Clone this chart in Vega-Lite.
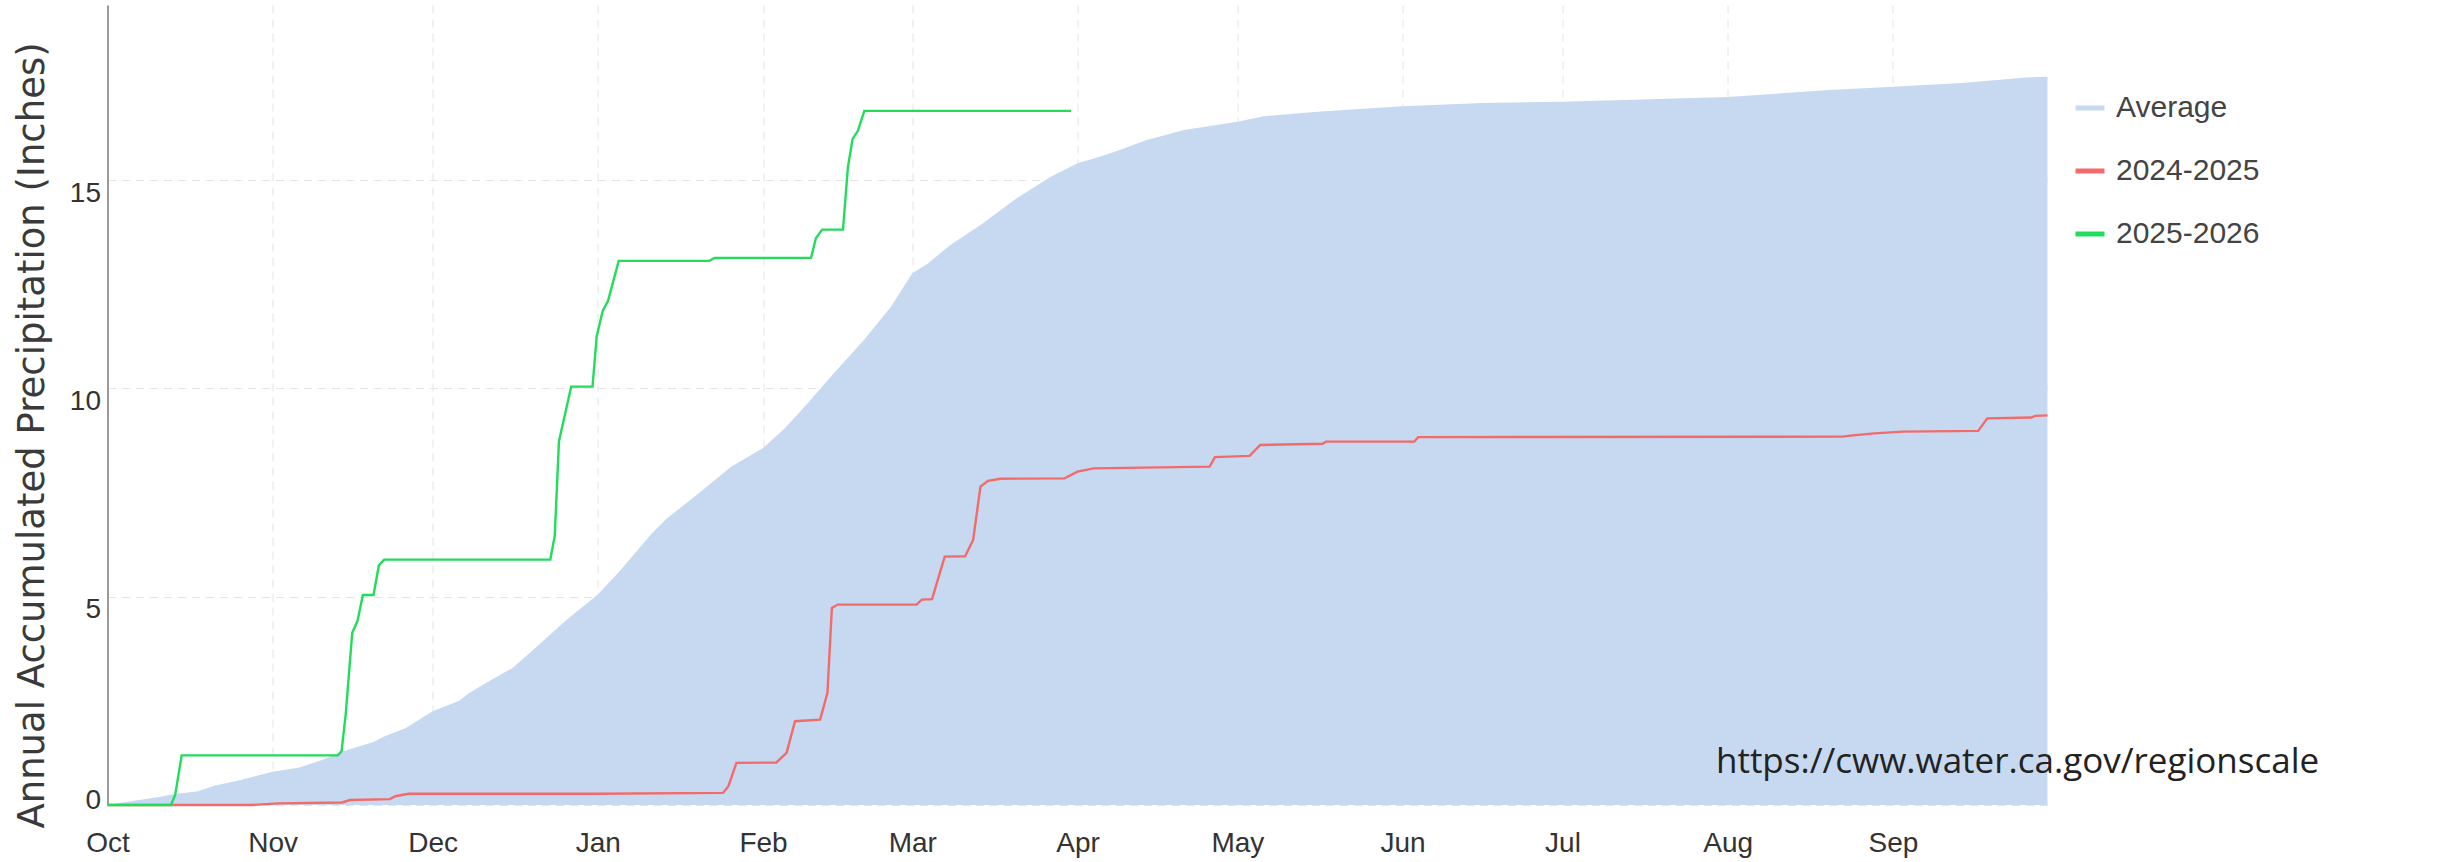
{
  "$schema": "https://vega.github.io/schema/vega-lite/v6.json",
  "width": 1940,
  "height": 800,
  "autosize": {"type": "none"},
  "padding": {"left": 107.5, "top": 5, "right": 395.5, "bottom": 57},
  "background": "white",
  "config": {"view": {"stroke": null}},
  "datasets": {
    "avg": [
      {"date": "2024-10-01T00:00:00", "value": 0},
      {"date": "2024-10-06T00:00:00", "value": 0.1},
      {"date": "2024-10-11T00:00:00", "value": 0.2},
      {"date": "2024-10-13T00:00:00", "value": 0.25},
      {"date": "2024-10-18T00:00:00", "value": 0.33},
      {"date": "2024-10-21T00:00:00", "value": 0.46},
      {"date": "2024-10-26T00:00:00", "value": 0.6},
      {"date": "2024-11-01T00:00:00", "value": 0.8},
      {"date": "2024-11-06T00:00:00", "value": 0.9},
      {"date": "2024-11-10T00:00:00", "value": 1.07},
      {"date": "2024-11-14T00:00:00", "value": 1.28},
      {"date": "2024-11-20T00:00:00", "value": 1.52},
      {"date": "2024-11-22T00:00:00", "value": 1.65},
      {"date": "2024-11-26T00:00:00", "value": 1.85},
      {"date": "2024-12-01T00:00:00", "value": 2.25},
      {"date": "2024-12-06T00:00:00", "value": 2.5},
      {"date": "2024-12-08T00:00:00", "value": 2.7},
      {"date": "2024-12-12T00:00:00", "value": 3.0},
      {"date": "2024-12-16T00:00:00", "value": 3.29},
      {"date": "2024-12-20T00:00:00", "value": 3.74},
      {"date": "2024-12-26T00:00:00", "value": 4.43},
      {"date": "2025-01-01T00:00:00", "value": 5.05},
      {"date": "2025-01-05T00:00:00", "value": 5.6},
      {"date": "2025-01-11T00:00:00", "value": 6.5},
      {"date": "2025-01-14T00:00:00", "value": 6.88},
      {"date": "2025-01-20T00:00:00", "value": 7.49},
      {"date": "2025-01-26T00:00:00", "value": 8.12},
      {"date": "2025-02-01T00:00:00", "value": 8.57},
      {"date": "2025-02-05T00:00:00", "value": 9.03},
      {"date": "2025-02-09T00:00:00", "value": 9.59},
      {"date": "2025-02-14T00:00:00", "value": 10.32},
      {"date": "2025-02-20T00:00:00", "value": 11.17},
      {"date": "2025-02-25T00:00:00", "value": 11.96},
      {"date": "2025-03-01T00:00:00", "value": 12.76},
      {"date": "2025-03-04T00:00:00", "value": 13.0},
      {"date": "2025-03-08T00:00:00", "value": 13.43},
      {"date": "2025-03-14T00:00:00", "value": 13.94},
      {"date": "2025-03-20T00:00:00", "value": 14.51},
      {"date": "2025-03-27T00:00:00", "value": 15.08},
      {"date": "2025-04-01T00:00:00", "value": 15.4},
      {"date": "2025-04-05T00:00:00", "value": 15.55},
      {"date": "2025-04-08T00:00:00", "value": 15.68},
      {"date": "2025-04-14T00:00:00", "value": 15.96},
      {"date": "2025-04-21T00:00:00", "value": 16.2},
      {"date": "2025-05-01T00:00:00", "value": 16.4},
      {"date": "2025-05-06T00:00:00", "value": 16.53},
      {"date": "2025-05-16T00:00:00", "value": 16.64},
      {"date": "2025-06-01T00:00:00", "value": 16.77},
      {"date": "2025-06-16T00:00:00", "value": 16.85},
      {"date": "2025-07-01T00:00:00", "value": 16.88},
      {"date": "2025-08-01T00:00:00", "value": 16.99},
      {"date": "2025-08-20T00:00:00", "value": 17.16},
      {"date": "2025-09-01T00:00:00", "value": 17.24},
      {"date": "2025-09-14T00:00:00", "value": 17.33},
      {"date": "2025-09-26T00:00:00", "value": 17.46},
      {"date": "2025-09-30T00:00:00", "value": 17.48}
    ],
    "years": [
      {"series": "2024-2025", "date": "2024-10-01T00:00:00", "value": 0},
      {"series": "2024-2025", "date": "2024-10-28T00:00:00", "value": 0},
      {"series": "2024-2025", "date": "2024-11-02T00:00:00", "value": 0.04},
      {"series": "2024-2025", "date": "2024-11-14T00:00:00", "value": 0.06},
      {"series": "2024-2025", "date": "2024-11-15T12:00:00", "value": 0.12},
      {"series": "2024-2025", "date": "2024-11-23T00:00:00", "value": 0.14},
      {"series": "2024-2025", "date": "2024-11-24T00:00:00", "value": 0.21},
      {"series": "2024-2025", "date": "2024-11-26T12:00:00", "value": 0.27},
      {"series": "2024-2025", "date": "2025-01-01T00:00:00", "value": 0.27},
      {"series": "2024-2025", "date": "2025-01-24T12:00:00", "value": 0.29},
      {"series": "2024-2025", "date": "2025-01-25T12:00:00", "value": 0.45},
      {"series": "2024-2025", "date": "2025-01-27T00:00:00", "value": 1.01},
      {"series": "2024-2025", "date": "2025-02-03T12:00:00", "value": 1.02},
      {"series": "2024-2025", "date": "2025-02-05T10:00:00", "value": 1.25},
      {"series": "2024-2025", "date": "2025-02-07T00:00:00", "value": 2.01},
      {"series": "2024-2025", "date": "2025-02-11T17:00:00", "value": 2.05},
      {"series": "2024-2025", "date": "2025-02-13T02:00:00", "value": 2.69},
      {"series": "2024-2025", "date": "2025-02-13T22:00:00", "value": 4.73},
      {"series": "2024-2025", "date": "2025-02-15T00:00:00", "value": 4.81},
      {"series": "2024-2025", "date": "2025-03-01T19:00:00", "value": 4.81},
      {"series": "2024-2025", "date": "2025-03-02T19:00:00", "value": 4.93},
      {"series": "2024-2025", "date": "2025-03-04T17:00:00", "value": 4.94},
      {"series": "2024-2025", "date": "2025-03-07T02:00:00", "value": 5.96},
      {"series": "2024-2025", "date": "2025-03-10T22:00:00", "value": 5.97},
      {"series": "2024-2025", "date": "2025-03-12T10:00:00", "value": 6.36},
      {"series": "2024-2025", "date": "2025-03-13T19:00:00", "value": 7.64},
      {"series": "2024-2025", "date": "2025-03-15T05:00:00", "value": 7.78},
      {"series": "2024-2025", "date": "2025-03-17T14:00:00", "value": 7.83},
      {"series": "2024-2025", "date": "2025-03-29T14:00:00", "value": 7.84},
      {"series": "2024-2025", "date": "2025-04-01T00:00:00", "value": 8.0},
      {"series": "2024-2025", "date": "2025-04-04T00:00:00", "value": 8.08},
      {"series": "2024-2025", "date": "2025-04-25T19:00:00", "value": 8.12},
      {"series": "2024-2025", "date": "2025-04-26T19:00:00", "value": 8.35},
      {"series": "2024-2025", "date": "2025-05-03T07:00:00", "value": 8.38},
      {"series": "2024-2025", "date": "2025-05-05T07:00:00", "value": 8.64},
      {"series": "2024-2025", "date": "2025-05-17T00:00:00", "value": 8.67},
      {"series": "2024-2025", "date": "2025-05-17T14:00:00", "value": 8.72},
      {"series": "2024-2025", "date": "2025-06-03T05:00:00", "value": 8.72},
      {"series": "2024-2025", "date": "2025-06-03T22:00:00", "value": 8.83},
      {"series": "2024-2025", "date": "2025-08-22T12:00:00", "value": 8.84},
      {"series": "2024-2025", "date": "2025-08-24T12:00:00", "value": 8.87},
      {"series": "2024-2025", "date": "2025-08-28T12:00:00", "value": 8.92},
      {"series": "2024-2025", "date": "2025-09-02T22:00:00", "value": 8.96},
      {"series": "2024-2025", "date": "2025-09-17T00:00:00", "value": 8.98},
      {"series": "2024-2025", "date": "2025-09-18T17:00:00", "value": 9.28},
      {"series": "2024-2025", "date": "2025-09-27T00:00:00", "value": 9.3},
      {"series": "2024-2025", "date": "2025-09-27T17:00:00", "value": 9.34},
      {"series": "2024-2025", "date": "2025-09-30T00:00:00", "value": 9.35},
      {"series": "2025-2026", "date": "2024-10-01T00:00:00", "value": 0},
      {"series": "2025-2026", "date": "2024-10-12T22:00:00", "value": 0},
      {"series": "2025-2026", "date": "2024-10-13T17:00:00", "value": 0.25},
      {"series": "2025-2026", "date": "2024-10-14T22:00:00", "value": 1.19},
      {"series": "2025-2026", "date": "2024-11-13T05:00:00", "value": 1.19},
      {"series": "2025-2026", "date": "2024-11-13T22:00:00", "value": 1.29},
      {"series": "2025-2026", "date": "2024-11-14T17:00:00", "value": 2.19},
      {"series": "2025-2026", "date": "2024-11-15T22:00:00", "value": 4.13},
      {"series": "2025-2026", "date": "2024-11-16T22:00:00", "value": 4.42},
      {"series": "2025-2026", "date": "2024-11-17T22:00:00", "value": 5.04},
      {"series": "2025-2026", "date": "2024-11-19T22:00:00", "value": 5.04},
      {"series": "2025-2026", "date": "2024-11-20T22:00:00", "value": 5.75},
      {"series": "2025-2026", "date": "2024-11-21T22:00:00", "value": 5.89},
      {"series": "2025-2026", "date": "2024-12-23T02:00:00", "value": 5.89},
      {"series": "2025-2026", "date": "2024-12-23T22:00:00", "value": 6.46},
      {"series": "2025-2026", "date": "2024-12-24T17:00:00", "value": 8.73},
      {"series": "2025-2026", "date": "2024-12-25T19:00:00", "value": 9.35},
      {"series": "2025-2026", "date": "2024-12-27T00:00:00", "value": 10.04},
      {"series": "2025-2026", "date": "2024-12-31T00:00:00", "value": 10.04},
      {"series": "2025-2026", "date": "2024-12-31T19:00:00", "value": 11.25},
      {"series": "2025-2026", "date": "2025-01-01T22:00:00", "value": 11.86},
      {"series": "2025-2026", "date": "2025-01-02T22:00:00", "value": 12.1},
      {"series": "2025-2026", "date": "2025-01-04T22:00:00", "value": 13.06},
      {"series": "2025-2026", "date": "2025-01-21T22:00:00", "value": 13.06},
      {"series": "2025-2026", "date": "2025-01-22T22:00:00", "value": 13.13},
      {"series": "2025-2026", "date": "2025-02-10T00:00:00", "value": 13.13},
      {"series": "2025-2026", "date": "2025-02-10T22:00:00", "value": 13.6},
      {"series": "2025-2026", "date": "2025-02-12T02:00:00", "value": 13.81},
      {"series": "2025-2026", "date": "2025-02-16T00:00:00", "value": 13.81},
      {"series": "2025-2026", "date": "2025-02-16T22:00:00", "value": 15.3},
      {"series": "2025-2026", "date": "2025-02-17T19:00:00", "value": 15.98},
      {"series": "2025-2026", "date": "2025-02-18T19:00:00", "value": 16.18},
      {"series": "2025-2026", "date": "2025-02-20T00:00:00", "value": 16.66},
      {"series": "2025-2026", "date": "2025-03-30T19:00:00", "value": 16.66}
    ],
    "note": [
      {"label": "https://cww.water.ca.gov/regionscale"}
    ]
  },
  "layer": [
    {
      "data": {"name": "avg"},
      "mark": {"type": "area", "color": "#c7d9f0", "opacity": 1, "interpolate": "linear"},
      "encoding": {
        "x": {
          "field": "date",
          "type": "temporal",
          "scale": {"domain": ["2024-10-01T00:00:00", "2025-09-30T00:00:00"], "nice": false},
          "axis": {
            "title": null,
            "format": "%b",
            "tickCount": {"interval": "month", "step": 1},
            "domain": false,
            "ticks": false,
            "grid": true,
            "gridColor": "#e4e4e4",
            "gridDash": [8, 6],
            "gridWidth": 1,
            "labelFont": "Liberation Sans",
            "labelFontSize": 28,
            "labelColor": "#333333",
            "labelPadding": 24,
            "labelFlush": false,
            "labelOverlap": false
          }
        },
        "y": {
          "field": "value",
          "type": "quantitative",
          "scale": {"domain": [0, 19.2], "nice": false, "zero": true},
          "axis": {
            "title": "Annual Accumulated Precipitation (Inches)",
            "titleFont": "DejaVu Sans",
            "titleFontSize": 37,
            "titleFontWeight": "normal",
            "titleColor": "#3a3a3a",
            "titleX": -64,
            "titleY": 430,
            "titleBaseline": "alphabetic",
            "titleAlign": "center",
            "titleAngle": 270,
            "values": [0, 5, 10, 15],
            "domain": true,
            "domainColor": "#9a9a9a",
            "domainWidth": 2,
            "ticks": false,
            "grid": true,
            "gridColor": "#e4e4e4",
            "gridDash": [8, 6],
            "gridWidth": 1,
            "labelFont": "Liberation Sans",
            "labelFontSize": 28,
            "labelColor": "#333333",
            "labelPadding": 7,
            "labelBaseline": "middle",
            "labelOffset": {"condition": {"test": "datum.value == 0", "value": -5}, "value": 13}
          }
        }
      }
    },
    {
      "data": {"name": "years"},
      "mark": {"type": "line", "strokeWidth": 2.4, "interpolate": "linear"},
      "encoding": {
        "x": {"field": "date", "type": "temporal"},
        "y": {"field": "value", "type": "quantitative"},
        "color": {
          "field": "series",
          "type": "nominal",
          "scale": {
            "domain": ["Average", "2024-2025", "2025-2026"],
            "range": ["#c7d9f0", "#f26b6b", "#22dc5c"]
          },
          "legend": {
            "title": null,
            "orient": "none",
            "legendX": 1965.5,
            "legendY": 86,
            "padding": 0,
            "symbolType": "stroke",
            "symbolStrokeWidth": 5,
            "symbolSize": 841,
            "labelFont": "Liberation Sans",
            "labelFontSize": 30,
            "labelColor": "#444444",
            "labelOffset": 9,
            "labelLimit": 0,
            "rowPadding": 31
          }
        }
      }
    },
    {
      "data": {"name": "note"},
      "mark": {
        "type": "text",
        "align": "left",
        "baseline": "alphabetic",
        "font": "Open Sans",
        "fontSize": 35,
        "color": "#222222"
      },
      "encoding": {
        "x": {"datum": 1753815600000, "type": "temporal"},
        "y": {"datum": 0.77, "type": "quantitative"},
        "text": {"field": "label", "type": "nominal"}
      }
    }
  ]
}
